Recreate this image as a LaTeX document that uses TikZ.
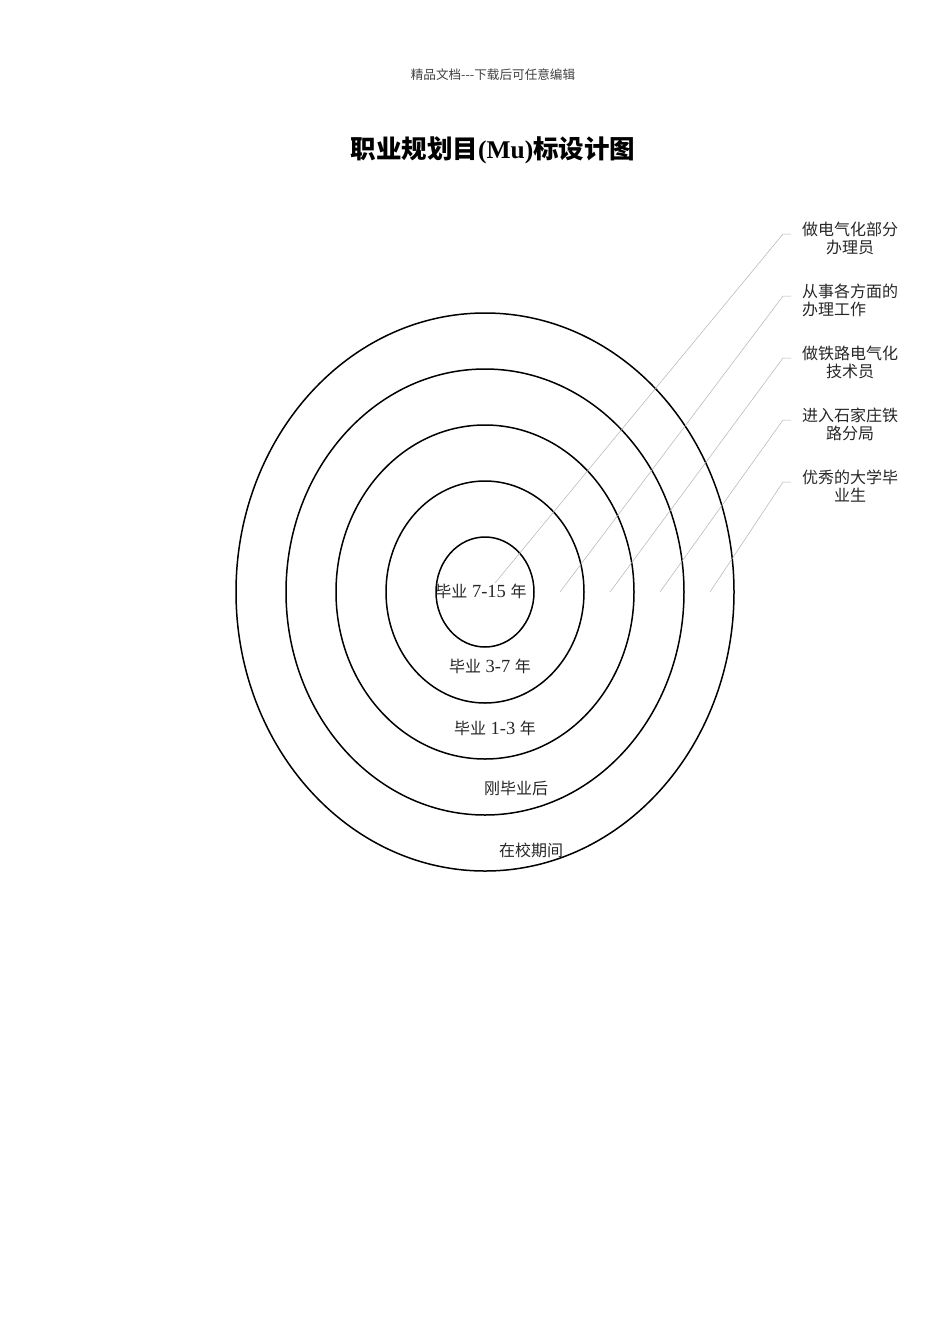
\documentclass[tikz,border=0pt]{standalone}
\usepackage{fontspec}
\setmainfont{Liberation Serif}
\newfontfamily\cjk{Noto Sans CJK SC}
\begin{document}
\begin{tikzpicture}[x={(1pt,0)},y={(0,-1pt)},
  ring/.style={draw=black,line width=1.5pt},
  lead/.style={draw=black!30,line width=0.5pt},
  lbl/.style={font=\fontsize{16}{18}\selectfont\cjk,text=black!85,align=center,inner sep=0pt},
  rlbl/.style={font=\fontsize{18.5}{20}\selectfont,text=black!85,inner sep=0pt}]
\useasboundingbox (0,0) rectangle (950,1344);
\node[font=\fontsize{12.6}{14}\selectfont\cjk,text=black!75,inner sep=0pt] (hdr) at (493,75) {精品文档---下载后可任意编辑};
\node[font=\fontsize{25.5}{30}\selectfont\bfseries,inner sep=0pt] (title) at (493,150) {{\cjk\bfseries 职业规划目}(Mu){\cjk\bfseries 标设计图}};
% rings
\path[ring] (485,592) ellipse [x radius=249, y radius=279];
\path[ring] (485,592) ellipse [x radius=199, y radius=223];
\path[ring] (485,592) ellipse [x radius=149, y radius=167];
\path[ring] (485,592) ellipse [x radius=99, y radius=111];
\path[ring] (485,592) ellipse [x radius=49, y radius=55];
% ring labels
\node[rlbl] (r1) at (481,591) {{\cjk\fontsize{16}{18}\selectfont 毕业} 7-15 {\cjk\fontsize{16}{18}\selectfont 年}};
\node[rlbl] (r2) at (490,666) {{\cjk\fontsize{16}{18}\selectfont 毕业} 3-7 {\cjk\fontsize{16}{18}\selectfont 年}};
\node[rlbl] (r3) at (495,728) {{\cjk\fontsize{16}{18}\selectfont 毕业} 1-3 {\cjk\fontsize{16}{18}\selectfont 年}};
\node[lbl] (r4) at (516,788) {刚毕业后};
\node[lbl] (r5) at (531,850) {在校期间};
% right labels
\node[lbl] (t1) at (850,238) {做电气化部分\\办理员};
\node[lbl,align=left,anchor=west] (t2) at (802,300) {从事各方面的\\办理工作};
\node[lbl] (t3) at (850,362) {做铁路电气化\\技术员};
\node[lbl] (t4) at (850,424) {进入石家庄铁\\路分局};
\node[lbl] (t5) at (850,486) {优秀的大学毕\\业生};
% leader coordinates
\coordinate (s1) at (791,234); \coordinate (k1) at (783,234); \coordinate (e1) at (495,583);
\coordinate (s2) at (791,296); \coordinate (k2) at (783,296); \coordinate (e2) at (560,592);
\coordinate (s3) at (791,358); \coordinate (k3) at (783,358); \coordinate (e3) at (610,592);
\coordinate (s4) at (791,420); \coordinate (k4) at (783,420); \coordinate (e4) at (660,592);
\coordinate (s5) at (791,482); \coordinate (k5) at (783,482); \coordinate (e5) at (710,592);
\foreach \i in {1,...,5}{\draw[lead] (s\i) -- (k\i) -- (e\i);}
\end{tikzpicture}
\end{document}
